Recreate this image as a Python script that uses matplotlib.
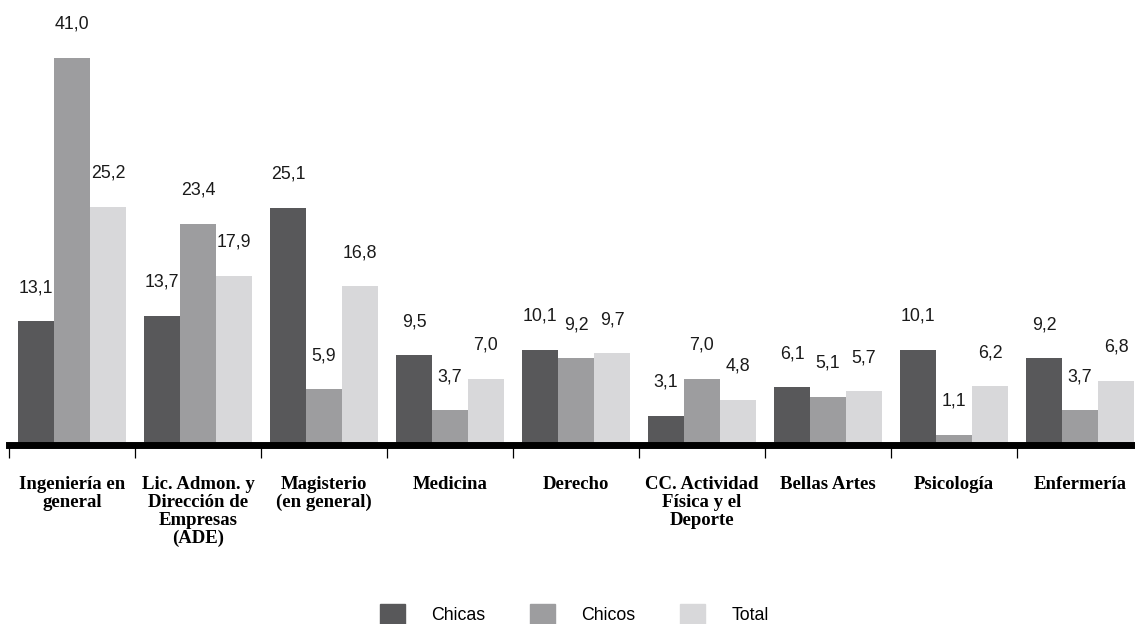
import numpy as np
import matplotlib
matplotlib.use("Agg")
import matplotlib.pyplot as plt
from matplotlib.patches import Patch
from matplotlib.font_manager import FontProperties

categories = ["Ingeniería en\ngeneral", "Lic. Admon. y\nDirección de\nEmpresas\n(ADE)",
              "Magisterio\n(en general)", "Medicina", "Derecho",
              "CC. Actividad\nFísica y el\nDeporte", "Bellas Artes", "Psicología", "Enfermería"]
series_names = ["Chicas", "Chicos", "Total"]
chicas = [13.1, 13.7, 25.1, 9.5, 10.1, 3.1, 6.1, 10.1, 9.2]
chicos = [41.0, 23.4, 5.9, 3.7, 9.2, 7.0, 5.1, 1.1, 3.7]
total = [25.2, 17.9, 16.8, 7.0, 9.7, 4.8, 5.7, 6.2, 6.8]
colors = ["#58585a", "#9d9d9f", "#d8d8da"]

vprop = FontProperties(family="Liberation Sans", size=12.8)
cfont = "Liberation Serif"

W, H = 1135, 624
fig = plt.figure(figsize=(W / 100, H / 100), dpi=100)
ax = fig.add_axes([9 / W, (H - 445) / H, 1134 / W, 445 / H])

x = np.arange(len(categories))
bw = 36 / 126
for i, (vals, col, nm) in enumerate(zip([chicas, chicos, total], colors, series_names)):
    xs = x + (i - 1) * bw
    ax.bar(xs, vals, width=bw, color=col, label=nm, zorder=1)
    for xi, v in zip(xs, vals):
        ax.annotate(f"{v:.1f}".replace(".", ","), (xi, v), xytext=(0, 18),
                    textcoords="offset points", ha="center", va="bottom",
                    fontproperties=vprop, color="#1a1a1a")

ax.set_xlim(-0.5, len(categories) - 0.5)
ax.set_ylim(0, 47.1)
for s in ["left", "right", "top"]:
    ax.spines[s].set_visible(False)
ax.spines["bottom"].set_linewidth(5)
ax.spines["bottom"].set_color("black")
ax.set_yticks([])
ax.set_xticks(np.arange(-0.5, len(categories), 1))
ax.set_xticklabels([])
ax.tick_params(axis="x", which="major", length=9, width=0.9, color="black", direction="out")
ax.set_xticks(x, minor=True)
ax.set_xticklabels(categories, minor=True, fontsize=13.5, family=cfont, fontweight="bold",
                   linespacing=1.08, va="top")
ax.tick_params(axis="x", which="minor", length=0, pad=22)

handles = [Patch(color=c, label=n) for c, n in zip(colors, series_names)]
fig.legend(handles=handles, loc="center", bbox_to_anchor=(0.506, 0.016), ncol=3,
           frameon=False, prop=vprop,
           handlelength=1.4, handleheight=1.4, handletextpad=1.5, columnspacing=2.5)

fig.savefig("out.png", dpi=100)
